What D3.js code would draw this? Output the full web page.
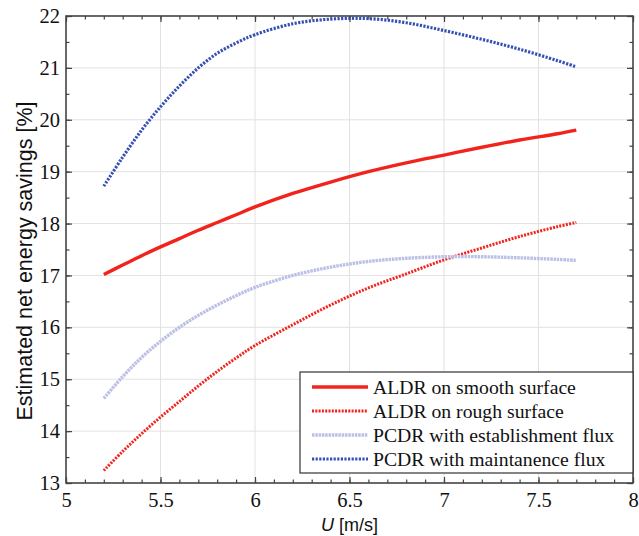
<!DOCTYPE html>
<html>
<head>
<meta charset="utf-8">
<script src="https://cdn.jsdelivr.net/npm/d3@7"></script>
<style>
  body { margin: 0; background: #fff; }
  svg { display: block; }
</style>
</head>
<body>
<svg id="chart" width="639" height="536"></svg>
<script>
// flow speed U [m/s]
const uValues = [5.2, 5.3, 5.4, 5.5, 5.6, 5.7, 5.8, 5.9, 6.0, 6.2, 6.4, 6.6, 6.8, 7.0, 7.2, 7.4, 7.6, 7.7]

// estimated net energy savings [%]
const aldrSmooth = [17.02, 17.20, 17.38, 17.55, 17.71, 17.87, 18.02, 18.17, 18.32, 18.58, 18.80, 19.00, 19.17, 19.32, 19.47, 19.61, 19.73, 19.80]
const aldrRough = [13.24, 13.61, 13.95, 14.27, 14.57, 14.87, 15.15, 15.41, 15.65, 16.05, 16.43, 16.76, 17.03, 17.30, 17.53, 17.75, 17.94, 18.02]
const pcdrEstablishment = [14.63, 15.05, 15.42, 15.73, 16.00, 16.23, 16.43, 16.61, 16.77, 17.00, 17.16, 17.27, 17.33, 17.36, 17.36, 17.34, 17.31, 17.29]
const pcdrMaintenance = [18.72, 19.28, 19.80, 20.25, 20.65, 21.00, 21.28, 21.48, 21.64, 21.85, 21.94, 21.95, 21.87, 21.72, 21.55, 21.36, 21.14, 21.02]

const seriesNames = ['ALDR on smooth surface', 'ALDR on rough surface', 'PCDR with establishment flux', 'PCDR with maintanence flux']

const xTicks = [5, 5.5, 6, 6.5, 7, 7.5, 8]
const yTicks = [13, 14, 15, 16, 17, 18, 19, 20, 21, 22]

const margins = { left: 66, top: 16, right: 6, bottom: 53 }
const width = 639, height = 536

const svg = d3.select('#chart')
const x = d3.scaleLinear().domain([5, 8]).range([margins.left, width - margins.right])
const y = d3.scaleLinear().domain([13, 22]).range([height - margins.bottom, margins.top])

const serif = '"Liberation Serif", "Times New Roman", serif'
const sans = '"Liberation Sans", Arial, sans-serif'

/**
 * grid
 */
const grid = svg.append('g').attr('stroke', '#e2e2e2').attr('stroke-width', 1)
xTicks.slice(1, -1).forEach(t => grid.append('line')
    .attr('x1', x(t)).attr('x2', x(t)).attr('y1', y(13)).attr('y2', y(22)))
yTicks.slice(1, -1).forEach(t => grid.append('line')
    .attr('x1', x(5)).attr('x2', x(8)).attr('y1', y(t)).attr('y2', y(t)))

/**
 * axes (ticks inward on all four sides)
 */
const xMinor = d3.range(50, 81).map(d => d / 10)
const yMinor = d3.range(26, 45).map(d => d / 2)

function styleAxis(g) {
    g.select('.domain').remove()
    g.selectAll('.tick line').attr('stroke', '#444').attr('stroke-width', 1.2)
    g.selectAll('.tick text').attr('font-family', serif).attr('font-size', 20.5).attr('fill', '#111')
}

svg.append('g').attr('transform', `translate(0,${y(13)})`)
    .call(d3.axisBottom(x).tickValues(xMinor).tickSize(-3.5).tickFormat(''))
    .call(styleAxis)
svg.append('g').attr('transform', `translate(0,${y(13)})`)
    .call(d3.axisBottom(x).tickValues(xTicks).tickSize(-6).tickPadding(9.5).tickFormat(d3.format('')))
    .call(styleAxis)
svg.append('g').attr('transform', `translate(0,${y(22)})`)
    .call(d3.axisTop(x).tickValues(xMinor).tickSize(-3.5).tickFormat(''))
    .call(styleAxis)
svg.append('g').attr('transform', `translate(0,${y(22)})`)
    .call(d3.axisTop(x).tickValues(xTicks).tickSize(-6).tickFormat(''))
    .call(styleAxis)

svg.append('g').attr('transform', `translate(${x(5)},0)`)
    .call(d3.axisLeft(y).tickValues(yMinor).tickSize(-3.5).tickFormat(''))
    .call(styleAxis)
svg.append('g').attr('transform', `translate(${x(5)},0)`)
    .call(d3.axisLeft(y).tickValues(yTicks).tickSize(-6).tickPadding(6).tickFormat(d3.format('d')))
    .call(styleAxis)
svg.append('g').attr('transform', `translate(${x(8)},0)`)
    .call(d3.axisRight(y).tickValues(yMinor).tickSize(-3.5).tickFormat(''))
    .call(styleAxis)
svg.append('g').attr('transform', `translate(${x(8)},0)`)
    .call(d3.axisRight(y).tickValues(yTicks).tickSize(-6).tickFormat(''))
    .call(styleAxis)

// frame
svg.append('rect')
    .attr('x', x(5)).attr('y', y(22))
    .attr('width', x(8) - x(5)).attr('height', y(13) - y(22))
    .attr('fill', 'none').attr('stroke', '#444').attr('stroke-width', 1.6)

/**
 * lines
 */
const series = [
    { name: seriesNames[0], values: aldrSmooth, color: '#f2231c', width: 3.4, dash: null },
    { name: seriesNames[1], values: aldrRough, color: '#f2231c', width: 3, dash: '2,1.3' },
    { name: seriesNames[2], values: pcdrEstablishment, color: '#bcc0e6', width: 3.4, dash: '2.5,0.8' },
    { name: seriesNames[3], values: pcdrMaintenance, color: '#3550b4', width: 3.2, dash: '2.2,1.4' }
]

const line = d3.line()
    .x(d => x(d[0]))
    .y(d => y(d[1]))
    .curve(d3.curveCatmullRom)

series.forEach(s => {
    svg.append('path')
        .datum(uValues.map((u, i) => [u, s.values[i]]))
        .attr('d', line)
        .attr('fill', 'none')
        .attr('stroke', s.color)
        .attr('stroke-width', s.width)
        .attr('stroke-dasharray', s.dash)
})

/**
 * legend
 */
const legend = svg.append('g').attr('transform', 'translate(300,372)')
legend.append('rect')
    .attr('width', 333).attr('height', 101)
    .attr('fill', '#fff').attr('stroke', '#333').attr('stroke-width', 1.2)

series.forEach((s, i) => {
    const row = legend.append('g').attr('transform', `translate(0,${15 + i * 24})`)
    row.append('line')
        .attr('x1', 12).attr('x2', 68).attr('y1', 0).attr('y2', 0)
        .attr('stroke', s.color)
        .attr('stroke-width', s.width)
        .attr('stroke-dasharray', s.dash)
    row.append('text')
        .attr('x', 73).attr('y', 6.5)
        .attr('font-family', serif).attr('font-size', 19.7).attr('fill', '#111')
        .text(s.name)
})

/**
 * axis labels
 */
svg.append('text')
    .attr('transform', 'translate(32,261) rotate(-90)')
    .attr('text-anchor', 'middle')
    .attr('font-family', sans).attr('font-size', 21.5).attr('fill', '#111')
    .text('Estimated net energy savings [%]')

const xLabel = svg.append('text')
    .attr('x', (x(5) + x(8)) / 2).attr('y', 531)
    .attr('text-anchor', 'middle')
    .attr('font-family', sans).attr('font-size', 18).attr('fill', '#111')
xLabel.append('tspan').attr('font-style', 'italic').text('U')
xLabel.append('tspan').text(' [m/s]')
</script>
</body>
</html>
